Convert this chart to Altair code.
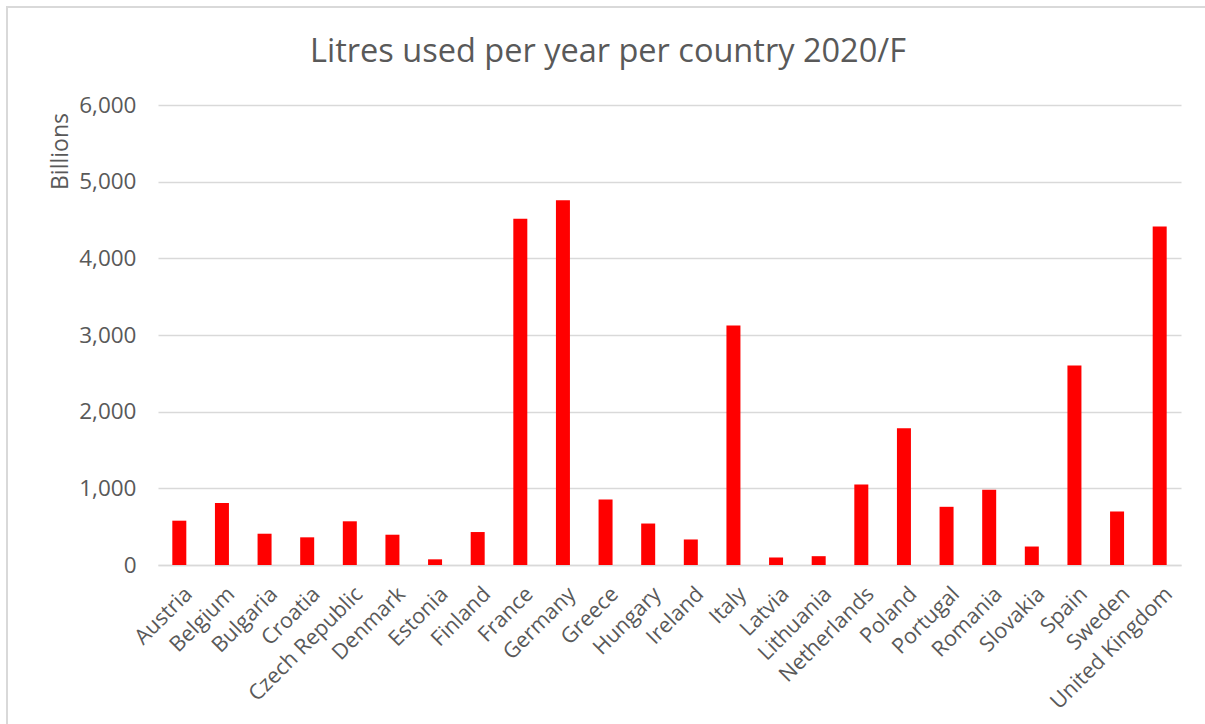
import altair as alt
import pandas as pd

countries = ["Austria", "Belgium", "Bulgaria", "Croatia", "Czech Republic", "Denmark",
             "Estonia", "Finland", "France", "Germany", "Greece", "Hungary", "Ireland",
             "Italy", "Latvia", "Lithuania", "Netherlands", "Poland", "Portugal",
             "Romania", "Slovakia", "Spain", "Sweden", "United Kingdom"]
litres_billions = [578, 809, 408, 361, 570, 395, 74, 430, 4515, 4756, 855, 541, 333,
                   3124, 98, 115, 1050, 1784, 759, 981, 241, 2602, 698, 4415]
y_ticks = [0, 1000, 2000, 3000, 4000, 5000, 6000]
chart_title = "Litres used per year per country 2020/F"

df = pd.DataFrame({"country": countries, "value": litres_billions})

FONT = "Open Sans"
GREY = "#595959"

W, H = 1023, 460
PL, PT = 158, 105

bars = alt.Chart(df).mark_bar(color="#FF0000", size=14).encode(
    x=alt.X("country:N", sort=countries,
            scale=alt.Scale(paddingInner=0.67, paddingOuter=0.335),
            axis=alt.Axis(title=None, labelAngle=-45, labelAlign="right",
                          labelBaseline="top", labelFont=FONT, labelFontSize=21.5,
                          labelColor=GREY, labelPadding=18, ticks=False,
                          domainColor="#D9D9D9", domainWidth=1.5, labelLimit=0,
                          labelOverlap=False, labelOffset=2)),
    y=alt.Y("value:Q", scale=alt.Scale(domain=[0, 6000], nice=False),
            axis=alt.Axis(title="Billions", values=y_ticks, format=",.0f",
                          labelFont=FONT, labelFontSize=22.5, labelColor=GREY,
                          labelPadding=22, ticks=False, domain=False,
                          gridColor="#D9D9D9", gridWidth=1.3,
                          titleFont=FONT, titleFontSize=23, titleColor=GREY,
                          titleFontWeight="normal", titleAngle=-90,
                          titleAlign="center", titleBaseline="middle",
                          titleX=-98, titleY=46)),
)

frame = alt.Chart(df).mark_rect(fill=None, stroke="#D9D9D9", strokeWidth=1.5).encode(
    x=alt.value(7 - PL), x2=alt.value(1205 - PL + 20),
    y=alt.value(7 - PT), y2=alt.value(724 - PT + 20),
)

title = alt.Chart(pd.DataFrame({"t": [chart_title]})).mark_text(
    font=FONT, fontSize=32.5, color=GREY, align="center", baseline="middle"
).encode(
    text="t:N", x=alt.value(608 - PL), y=alt.value(52 - PT),
)

chart = alt.layer(frame, bars, title).properties(
    width=W, height=H,
    autosize=alt.AutoSizeParams(type="none"),
    padding={"left": PL, "top": PT, "right": 1205 - PL - W, "bottom": 724 - PT - H},
    background="white",
).configure_view(stroke=None)

chart.save("out.html", embed_options={"renderer": "svg", "actions": False})
